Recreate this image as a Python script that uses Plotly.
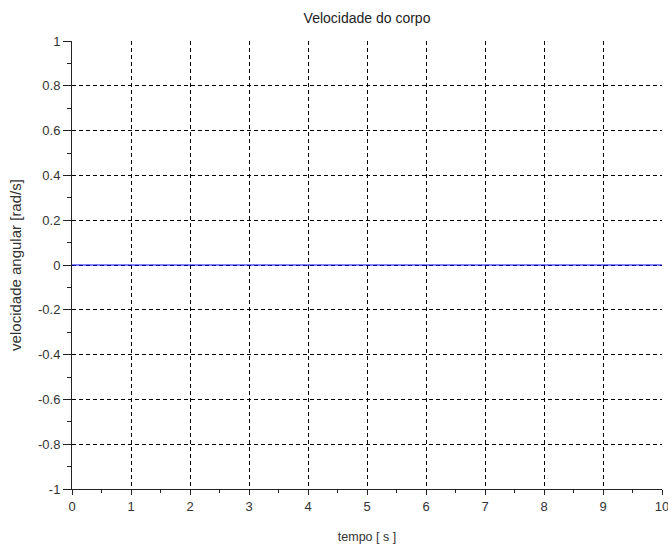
import plotly.graph_objects as go

# Angular velocity of the body over time
tempo = [0, 1, 2, 3, 4, 5, 6, 7, 8, 9, 10]
velocidade = [0, 0, 0, 0, 0, 0, 0, 0, 0, 0, 0]

x_ticks = [0, 1, 2, 3, 4, 5, 6, 7, 8, 9, 10]
x_labels = ["0", "1", "2", "3", "4", "5", "6", "7", "8", "9", "10"]
y_ticks = [-1, -0.8, -0.6, -0.4, -0.2, 0, 0.2, 0.4, 0.6, 0.8, 1]
y_labels = ["-1", "-0.8", "-0.6", "-0.4", "-0.2", "0", "0.2", "0.4", "0.6", "0.8", "1"]

font_family = "Liberation Sans, Arial, sans-serif"

fig = go.Figure()
fig.add_trace(go.Scatter(
    x=tempo, y=velocidade, mode="lines",
    line=dict(color="#0000ff", width=1),
    showlegend=False,
))

fig.update_layout(
    width=668, height=547,
    margin=dict(l=72, r=6, t=41, b=58),
    paper_bgcolor="white", plot_bgcolor="white",
    font=dict(family=font_family, size=13, color="#333333"),
    title=dict(text="Velocidade do corpo", x=0.5, xref="paper", xanchor="center",
               y=1 - 18 / 547, yanchor="middle",
               font=dict(size=14, color="#222222")),
)

fig.update_xaxes(
    range=[0, 10], tickvals=x_ticks, ticktext=x_labels,
    showline=True, linecolor="#222222", linewidth=1,
    ticks="outside", ticklen=5, tickcolor="#222222",
    ticklabeloverflow="allow",
    minor=dict(dtick=0.5, ticks="outside", ticklen=3, tickcolor="#222222", showgrid=False),
    showgrid=True, gridcolor="#000000", gridwidth=1, griddash="4px,3px",
    zeroline=False, mirror=False, automargin=False,
    title=dict(text="tempo [ s ]", standoff=19, font=dict(size=12.5)),
)
fig.update_yaxes(
    range=[-1, 1], tickvals=y_ticks, ticktext=y_labels,
    showline=True, linecolor="#222222", linewidth=1,
    ticks="outside", ticklen=8, tickcolor="#222222",
    minor=dict(dtick=0.1, ticks="outside", ticklen=4, tickcolor="#222222", showgrid=False),
    showgrid=True, gridcolor="#000000", gridwidth=1, griddash="4px,3px",
    zeroline=False, mirror=False, automargin=False,
    title=dict(text="velocidade angular [rad/s]", standoff=12, font=dict(size=15)),
)

fig.write_html("out.html")
